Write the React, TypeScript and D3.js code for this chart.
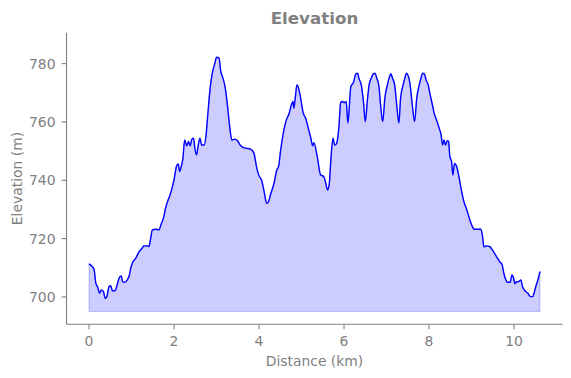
import React from "react";
import * as d3 from "d3";

const distanceKm = [
  0.0, 0.06, 0.12, 0.16, 0.2, 0.25, 0.29, 0.34, 0.38, 0.42, 0.47, 0.51, 0.55, 0.61, 0.65, 0.68, 0.73, 0.76, 0.79, 0.84,
  0.9, 0.95, 0.98, 1.02, 1.1, 1.18, 1.26, 1.29, 1.37, 1.41, 1.45, 1.49, 1.57, 1.65, 1.69, 1.76, 1.8, 1.92, 2.0, 2.06,
  2.1, 2.13, 2.17, 2.21, 2.25, 2.3, 2.34, 2.38, 2.42, 2.46, 2.49, 2.53, 2.57, 2.61, 2.65, 2.71, 2.75, 2.79, 2.85, 2.9,
  2.96, 3.0, 3.06, 3.1, 3.14, 3.2, 3.26, 3.31, 3.36, 3.43, 3.49, 3.57, 3.65, 3.8, 3.88, 3.94, 4.0, 4.06, 4.12, 4.18,
  4.21, 4.28, 4.35, 4.42, 4.46, 4.5, 4.55, 4.63, 4.71, 4.76, 4.8, 4.82, 4.86, 4.89, 4.92, 4.98, 5.04, 5.1, 5.16, 5.22,
  5.26, 5.29, 5.37, 5.45, 5.52, 5.57, 5.61, 5.65, 5.69, 5.74, 5.78, 5.82, 5.88, 5.92, 5.96, 6.0, 6.05, 6.09, 6.16, 6.22,
  6.28, 6.32, 6.35, 6.41, 6.46, 6.5, 6.55, 6.59, 6.64, 6.69, 6.73, 6.77, 6.82, 6.86, 6.91, 6.96, 7.02, 7.06, 7.1, 7.14,
  7.19, 7.24, 7.29, 7.33, 7.39, 7.43, 7.47, 7.51, 7.55, 7.61, 7.66, 7.71, 7.77, 7.81, 7.85, 7.89, 7.93, 7.98, 8.02, 8.08,
  8.12, 8.17, 8.24, 8.28, 8.32, 8.35, 8.39, 8.43, 8.46, 8.49, 8.53, 8.56, 8.6, 8.65, 8.71, 8.76, 8.82, 8.89, 8.96, 9.02,
  9.06, 9.14, 9.22, 9.26, 9.29, 9.35, 9.43, 9.49, 9.55, 9.61, 9.66, 9.72, 9.76, 9.8, 9.84, 9.91, 9.95, 9.99, 10.02, 10.06,
  10.1, 10.16, 10.2, 10.24, 10.32, 10.39, 10.44, 10.47, 10.51, 10.56, 10.61,
];

const elevationM = [
  711.3, 710.6, 709.3, 704.7, 703.5, 701.3, 702.4, 701.8, 699.5, 700.1, 703.5, 703.8, 702.1, 702.1, 703.5, 705.2, 707.0, 707.2, 705.2, 705.0,
  705.8, 707.5, 709.8, 711.6, 713.3, 715.5, 716.9, 717.5, 717.5, 717.3, 720.1, 723.0, 723.2, 723.0, 724.7, 727.5, 730.4, 735.6, 740.1, 744.9,
  745.6, 743.0, 744.7, 747.6, 753.8, 751.8, 753.3, 751.8, 754.1, 754.4, 751.0, 748.7, 752.1, 754.4, 752.1, 752.1, 755.0, 761.8, 771.6, 776.7,
  780.1, 782.2, 781.8, 777.3, 775.5, 772.1, 765.3, 758.4, 753.8, 754.1, 753.6, 751.8, 751.1, 750.7, 749.3, 744.7, 741.5, 740.1, 736.1, 732.1,
  732.3, 735.6, 738.8, 743.6, 744.7, 749.3, 754.4, 760.1, 763.0, 765.8, 767.0, 764.7, 769.3, 772.7, 772.1, 768.1, 763.0, 761.2, 757.8, 754.4,
  751.8, 752.9, 748.1, 741.8, 741.3, 739.0, 736.7, 738.4, 747.0, 754.4, 752.1, 752.5, 758.4, 766.6, 767.0, 766.6, 767.0, 759.6, 772.1, 773.5,
  776.5, 776.7, 775.0, 772.4, 766.4, 760.1, 767.6, 772.7, 775.0, 776.5, 776.7, 775.0, 772.4, 765.8, 760.1, 768.1, 772.7, 775.0, 776.5, 775.0,
  772.7, 765.8, 759.6, 768.1, 772.7, 775.0, 776.7, 775.8, 773.3, 765.3, 760.1, 768.1, 772.7, 775.0, 776.7, 776.5, 774.4, 772.7, 769.8, 765.8,
  763.0, 760.9, 757.8, 755.9, 752.1, 753.8, 752.1, 753.6, 753.3, 748.1, 746.4, 741.8, 745.8, 744.7, 740.7, 736.7, 732.7, 729.8, 726.4, 724.1,
  723.2, 723.2, 723.2, 720.7, 717.2, 717.5, 717.2, 716.1, 714.7, 713.3, 712.1, 711.0, 708.1, 706.1, 705.0, 705.0, 707.5, 706.4, 704.5, 705.2,
  705.2, 705.8, 703.5, 702.4, 701.3, 700.1, 700.1, 701.3, 703.5, 705.8, 708.7,
];

const xTicks = [0, 2, 4, 6, 8, 10];
const yTicks = [700, 720, 740, 760, 780];
const fillBase = 695;

const W = 571;
const H = 378;
const GRAY = "#808080";
const FONT = "DejaVu Sans, sans-serif";

export default function App() {
  const left = 66.5;
  const right = 562.5;
  const top = 32.7;
  const bottom = 324.3;

  const x = d3.scaleLinear().domain([-0.53, 11.14]).range([left, right]);
  const y = d3.scaleLinear().domain([690.6, 790.6]).range([bottom, top]);

  const data = distanceKm.map((d, i) => ({ d, e: elevationM[i] }));

  const line = d3
    .line<{ d: number; e: number }>()
    .x((p) => x(p.d))
    .y((p) => y(p.e))
    .curve(d3.curveMonotoneX);

  const area = d3
    .area<{ d: number; e: number }>()
    .x((p) => x(p.d))
    .y0(() => y(fillBase))
    .y1((p) => y(p.e))
    .curve(d3.curveMonotoneX);

  return (
    <svg width={W} height={H} style={{ position: "absolute", left: 0, top: 0, background: "#fff" }}>
      <path d={area(data) ?? ""} fill="rgba(0,0,255,0.2)" stroke="rgba(0,0,255,0.2)" strokeWidth={1.1} />
      <path d={line(data) ?? ""} fill="none" stroke="#0000ff" strokeWidth={1.4} strokeLinejoin="round" />

      {/* spines */}
      <line x1={left} x2={left} y1={top} y2={bottom} stroke={GRAY} strokeWidth={1.1} />
      <line x1={left} x2={right} y1={bottom} y2={bottom} stroke={GRAY} strokeWidth={1.1} />

      {xTicks.map((t) => (
        <g key={"x" + t}>
          <line x1={x(t)} x2={x(t)} y1={bottom} y2={bottom + 4.9} stroke={GRAY} strokeWidth={1.1} />
          <text x={x(t)} y={bottom + 21.5} fill={GRAY} fontFamily={FONT} fontSize={13.9} textAnchor="middle">
            {t}
          </text>
        </g>
      ))}
      {yTicks.map((t) => (
        <g key={"y" + t}>
          <line x1={left - 4.9} x2={left} y1={y(t)} y2={y(t)} stroke={GRAY} strokeWidth={1.1} />
          <text x={left - 11} y={y(t) + 5} fill={GRAY} fontFamily={FONT} fontSize={13.9} textAnchor="end">
            {t}
          </text>
        </g>
      ))}

      <text x={(left + right) / 2} y={24} fill={GRAY} fontFamily={FONT} fontSize={16.7} fontWeight="bold" textAnchor="middle">
        Elevation
      </text>
      <text x={(left + right) / 2} y={366} fill={GRAY} fontFamily={FONT} fontSize={13.9} textAnchor="middle">
        Distance (km)
      </text>
      <text
        transform={`translate(21.5, ${(top + bottom) / 2}) rotate(-90)`}
        fill={GRAY}
        fontFamily={FONT}
        fontSize={13.9}
        textAnchor="middle"
      >
        Elevation (m)
      </text>
    </svg>
  );
}
